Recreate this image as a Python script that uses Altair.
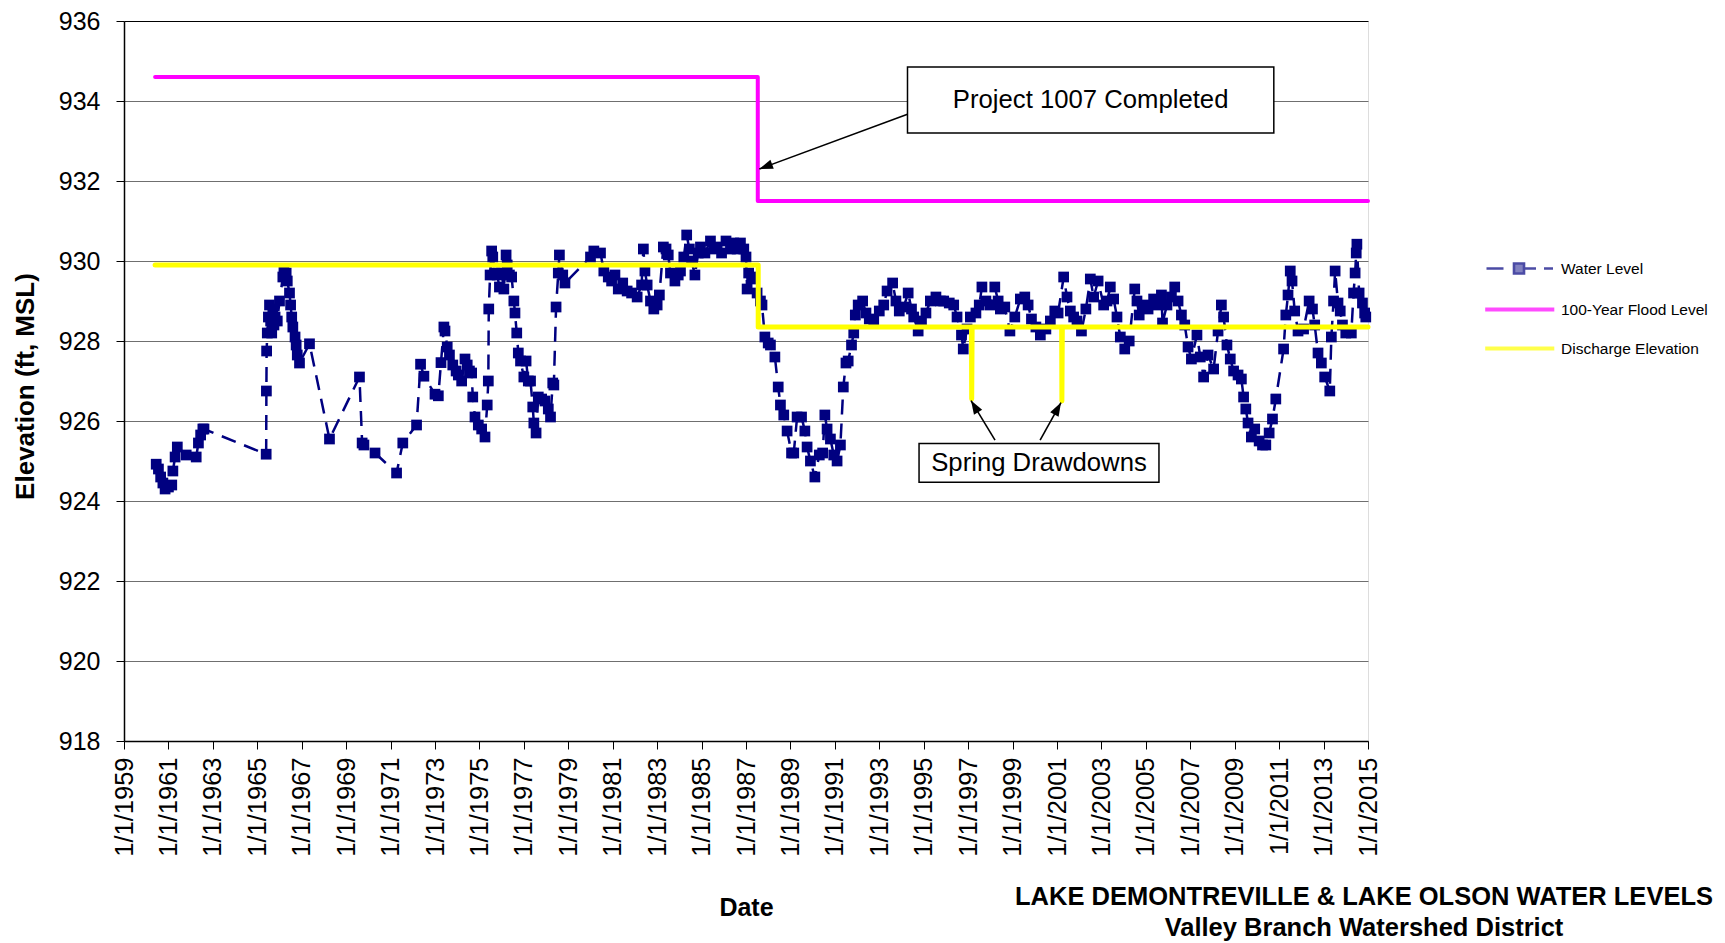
import math
import altair as alt
import pandas as pd

# ---------------- data ----------------
water_years = [
    1960.45, 1960.55, 1960.65, 1960.75, 1960.85, 1961.0, 1961.15, 1961.2, 1961.3, 1961.4,
    1961.8, 1962.25, 1962.35, 1962.45, 1962.55, 1962.6,
    1965.4, 1965.41, 1965.42, 1965.45, 1965.5, 1965.55, 1965.6, 1965.65, 1965.7, 1965.75,
    1965.8, 1965.9, 1966.0, 1966.15, 1966.2, 1966.3, 1966.35, 1966.45, 1966.5, 1966.55,
    1966.6, 1966.7, 1966.75, 1966.8, 1966.9, 1967.35, 1968.25, 1969.6, 1969.72, 1969.8,
    1970.3, 1971.27, 1971.55, 1972.17, 1972.35, 1972.5, 1973.0, 1973.15, 1973.27, 1973.4,
    1973.45, 1973.55, 1973.65, 1973.8, 1973.95, 1974.05, 1974.2, 1974.35, 1974.45, 1974.55,
    1974.65, 1974.7, 1974.8, 1974.95, 1975.1, 1975.25, 1975.35, 1975.4, 1975.42, 1975.48,
    1975.55, 1975.6, 1975.7, 1975.8, 1975.9, 1976.0, 1976.1, 1976.2, 1976.25, 1976.35,
    1976.45, 1976.55, 1976.6, 1976.68, 1976.75, 1976.85, 1977.0, 1977.1, 1977.2, 1977.3,
    1977.4, 1977.45, 1977.55, 1977.65, 1977.8, 1977.95, 1978.1, 1978.2, 1978.3, 1978.35,
    1978.45, 1978.55, 1978.6, 1978.75, 1978.85, 1980.0, 1980.15, 1980.45, 1980.6, 1980.8,
    1980.95, 1981.1, 1981.25, 1981.45, 1981.65, 1981.85, 1982.1, 1982.3, 1982.38, 1982.45,
    1982.55, 1982.7, 1982.85, 1983.0, 1983.1, 1983.28, 1983.4, 1983.5, 1983.6, 1983.8,
    1983.95, 1984.05, 1984.2, 1984.33, 1984.45, 1984.55, 1984.7, 1984.85, 1984.95, 1985.15,
    1985.4, 1985.55, 1985.7, 1985.9, 1986.1, 1986.3, 1986.45, 1986.6, 1986.75, 1986.9,
    1987.0, 1987.05, 1987.12, 1987.25, 1987.35, 1987.5, 1987.65, 1987.72, 1987.85, 1988.0,
    1988.1, 1988.3, 1988.45, 1988.55, 1988.7, 1988.85, 1989.05, 1989.15, 1989.3, 1989.5,
    1989.65, 1989.75, 1989.9, 1990.1, 1990.3, 1990.45, 1990.55, 1990.65, 1990.8, 1990.95,
    1991.1, 1991.25, 1991.38, 1991.5, 1991.6, 1991.75, 1991.85, 1991.92, 1992.05, 1992.25,
    1992.4, 1992.55, 1992.75, 1993.0, 1993.2, 1993.35, 1993.6, 1993.75, 1993.9, 1994.1,
    1994.3, 1994.45, 1994.55, 1994.75, 1994.9, 1995.1, 1995.3, 1995.55, 1995.75, 1995.9,
    1996.15, 1996.35, 1996.5, 1996.7, 1996.78, 1996.95, 1997.1, 1997.35, 1997.5, 1997.62,
    1997.8, 1998.0, 1998.2, 1998.35, 1998.45, 1998.65, 1998.88, 1999.1, 1999.35, 1999.55,
    1999.7, 1999.85, 2000.05, 2000.25, 2000.5, 2000.7, 2000.9, 2001.05, 2001.3, 2001.45,
    2001.6, 2001.75, 2001.9, 2002.1, 2002.3, 2002.5, 2002.65, 2002.85, 2003.1, 2003.25,
    2003.4, 2003.55, 2003.7, 2003.85, 2004.05, 2004.25, 2004.5, 2004.6, 2004.7, 2004.9,
    2005.1, 2005.35, 2005.55, 2005.7, 2005.75, 2005.95, 2006.15, 2006.3, 2006.45, 2006.6,
    2006.75, 2006.9, 2007.05, 2007.3, 2007.45, 2007.6, 2007.8, 2008.05, 2008.25, 2008.4,
    2008.5, 2008.65, 2008.8, 2008.95, 2009.15, 2009.3, 2009.4, 2009.5, 2009.6, 2009.75,
    2009.9, 2010.1, 2010.25, 2010.4, 2010.55, 2010.7, 2010.85, 2011.2, 2011.3, 2011.4,
    2011.5, 2011.58, 2011.7, 2011.85, 2012.1, 2012.35, 2012.5, 2012.6, 2012.75, 2012.9,
    2013.05, 2013.28, 2013.35, 2013.45, 2013.52, 2013.65, 2013.75, 2013.85, 2014.0, 2014.25,
    2014.35, 2014.42, 2014.47, 2014.5, 2014.6, 2014.75, 2014.85, 2014.9,
]
water_elev = [
    924.92, 924.8, 924.6, 924.45, 924.3, 924.35, 924.4, 924.75, 925.1, 925.35,
    925.15, 925.1, 925.45, 925.65, 925.8, 925.8,
    925.17, 926.75, 927.75, 928.2, 928.6, 928.9, 928.5, 928.2, 928.8, 928.4,
    928.6, 928.5, 929.0, 929.6, 929.8, 929.7, 929.5, 929.2, 928.9, 928.6,
    928.35, 928.1, 927.9, 927.65, 927.45, 927.93, 925.55, 927.1, 925.45, 925.4,
    925.2, 924.7, 925.45, 925.9, 927.42, 927.12, 926.67, 926.63, 927.46, 928.35,
    928.25, 927.85, 927.65, 927.4, 927.25, 927.15, 927.0, 927.55, 927.4, 927.25,
    927.2, 926.6, 926.1, 925.9, 925.8, 925.6, 926.4, 927.0, 928.8, 929.65,
    930.25, 930.1, 929.7, 929.65, 929.35, 929.7, 929.3, 930.15, 929.9, 929.65,
    929.6, 929.0, 928.7, 928.2, 927.7, 927.5, 927.1, 927.5, 927.0, 927.0,
    926.35, 925.95, 925.7, 926.6, 926.55, 926.5, 926.3, 926.1, 926.95, 926.9,
    928.85, 929.7, 930.15, 929.65, 929.45, 930.1, 930.25, 930.2, 929.75, 929.6,
    929.5, 929.65, 929.3, 929.45, 929.25, 929.2, 929.1, 929.4, 930.3, 929.75,
    929.4, 929.0, 928.8, 928.9, 929.15, 930.35, 930.3, 930.15, 929.7, 929.5,
    929.65, 929.75, 930.1, 930.65, 930.3, 930.0, 929.65, 930.2, 930.35, 930.2,
    930.5, 930.3, 930.35, 930.2, 930.5, 930.3, 930.45, 930.3, 930.45, 930.3,
    930.1, 929.3, 929.7, 929.55, 929.6, 929.2, 929.0, 928.9, 928.1, 927.95,
    927.9, 927.6, 926.85, 926.4, 926.15, 925.75, 925.2, 925.2, 926.1, 926.1,
    925.75, 925.35, 925.0, 924.6, 925.15, 925.2, 926.15, 925.8, 925.55, 925.15,
    925.0, 925.4, 926.85, 927.45, 927.5, 927.9, 928.2, 928.65, 928.9, 929.0,
    928.7, 928.55, 928.5, 928.75, 928.9, 929.25, 929.45, 929.0, 928.75, 928.85,
    929.2, 928.8, 928.6, 928.25, 928.5, 928.7, 929.0, 929.1, 929.0, 929.0,
    928.95, 928.9, 928.6, 928.15, 927.8, 928.3, 928.6, 928.7, 928.9, 929.35,
    929.0, 928.9, 929.35, 929.0, 928.8, 928.85, 928.25, 928.6, 929.05, 929.1,
    928.9, 928.55, 928.35, 928.15, 928.3, 928.5, 928.75, 928.7, 929.6, 929.1,
    928.75, 928.6, 928.5, 928.25, 928.8, 929.55, 929.1, 929.5, 928.9, 929.0,
    929.35, 929.05, 928.6, 928.1, 927.8, 928.0, 929.3, 929.0, 928.65, 928.9,
    928.8, 929.05, 928.9, 929.15, 928.45, 928.9, 929.1, 929.35, 929.0, 928.65,
    928.4, 927.85, 927.55, 928.15, 927.6, 927.1, 927.65, 927.3, 928.25, 928.9,
    928.6, 927.9, 927.55, 927.25, 927.15, 927.05, 926.6, 926.3, 925.95, 925.6,
    925.8, 925.5, 925.4, 925.4, 925.7, 926.05, 926.55, 927.8, 928.65, 929.15,
    929.75, 929.5, 928.75, 928.25, 928.3, 929.0, 928.8, 928.4, 927.7, 927.45,
    927.1, 926.75, 928.1, 929.0, 929.75, 928.95, 928.75, 928.4, 928.2, 928.2,
    929.2, 929.7, 930.2, 930.42, 929.2, 928.95, 928.7, 928.6,
]

flood_years = [1960.4, 1987.53, 1987.53, 2015.0]
flood_elev = [934.6, 934.6, 931.5, 931.5]

disch_years = [1960.4, 1987.55, 1987.55, 1997.15, 1997.16, 1997.18, 2001.21, 2001.22, 2001.24, 2015.0]
disch_elev = [929.9, 929.9, 928.35, 928.35, 926.55, 928.35, 928.35, 926.5, 928.35, 928.35]

series_names = ["Water Level", "100-Year Flood Level", "Discharge Elevation"]
series_colors = ["#000080", "#FF00FF", "#FFFF00"]

x_ticks = list(range(1959, 2016, 2))
y_ticks = list(range(918, 937, 2))

# annotation boxes (data coordinates)
box_text = ["Project 1007 Completed", "Spring Drawdowns"]
box_x1 = [1994.27, 1994.79]
box_x2 = [2010.76, 2005.59]
box_y1 = [934.85, 925.44]
box_y2 = [933.20, 924.47]

# arrows: start -> tip (data coordinates)
arrow_x1 = [1994.27, 1998.21, 2000.24]
arrow_y1 = [933.67, 925.52, 925.52]
arrow_x2 = [1987.6, 1997.13, 2001.18]
arrow_y2 = [932.30, 926.51, 926.46]

# ---------------- layout ----------------
W, H = 1244, 720
FONT = "Liberation Sans"
px_year = W / (2015 - 1959)
px_ft = H / (936 - 918)

xscale = alt.Scale(domain=[1959, 2015], nice=False, zero=False)
yscale = alt.Scale(domain=[918, 936], nice=False, zero=False)

x_enc = alt.X(
    "year:Q", scale=xscale, title="Date",
    axis=alt.Axis(
        values=x_ticks, labelExpr="'1/1/' + datum.value", labelAngle=270,
        labelFont=FONT, labelFontSize=25.5, labelColor="black", labelPadding=8,
        tickSize=8, tickColor="black", domainColor="black", domainWidth=1.5,
        grid=False, titleFont=FONT, titleFontSize=25, titleFontWeight="bold",
        titleColor="black", titleX=W / 2, titleY=166, titleBaseline="middle",
        labelOverlap=False, labelFlush=False,
    ),
)
y_enc = alt.Y(
    "elev:Q", scale=yscale, title="Elevation (ft, MSL)",
    axis=alt.Axis(
        values=y_ticks, labelFont=FONT, labelFontSize=25, labelColor="black",
        labelPadding=16, tickSize=8, tickColor="black", domainColor="black",
        domainWidth=1.5, grid=True,
        gridColor={"condition": {"test": "datum.value == 936", "value": "black"},
                   "value": "#6f6f6f"},
        gridWidth=1,
        titleFont=FONT, titleFontSize=26, titleFontWeight="bold", titleColor="black",
        titleX=-99, titleY=H / 2 + 5, titleBaseline="middle", titleAlign="center",
        labelFlush=False,
    ),
)

water_df = pd.DataFrame({"year": water_years, "elev": water_elev})
flood_df = pd.DataFrame({"year": flood_years, "elev": flood_elev, "i": range(len(flood_years))})
disch_df = pd.DataFrame({"year": disch_years, "elev": disch_elev, "i": range(len(disch_years))})

water_line = alt.Chart(water_df).mark_line(
    color="#000080", strokeWidth=2.5, strokeDash=[15, 9]
).encode(x=x_enc, y=y_enc)
water_pts = alt.Chart(water_df).mark_point(
    shape="square", filled=True, color="#000080", size=115, opacity=1
).encode(x=x_enc, y=y_enc)

flood_line = alt.Chart(flood_df).mark_line(
    color="#FF00FF", strokeWidth=4, strokeCap="round", strokeJoin="round"
).encode(x=x_enc, y=y_enc, order="i:Q")
disch_line = alt.Chart(disch_df).mark_line(
    color="#FFFF00", strokeWidth=5, strokeCap="round", strokeJoin="round"
).encode(x=x_enc, y=y_enc, order="i:Q")

# legend (library legend, driven by a hidden, clipped layer)
legend_paths = [
    "M-5.5,0H-3.8M-2.75,-0.5H-1.75V0.5H-2.75ZM-1.75,0H-0.55M0.25,0H1.15",
    "M-5.5,-0.07H1.15V0.07H-5.5Z",
    "M-5.5,-0.07H1.15V0.07H-5.5Z",
]
leg = alt.Legend(
    title=None, orient="none", legendX=1406, legendY=236, symbolSize=400,
    labelFont=FONT, labelFontSize=15.5, labelColor="black", labelOffset=8,
    rowPadding=19, symbolStrokeWidth=2.6,
)
legend_df = pd.DataFrame({"series": series_names, "year": [1900.0] * 3, "elev": [900.0] * 3})
legend_layer = alt.Chart(legend_df).mark_point(filled=True, clip=True).encode(
    x=x_enc, y=y_enc,
    shape=alt.Shape("series:N", scale=alt.Scale(domain=series_names, range=legend_paths), legend=leg),
    fill=alt.Fill("series:N", scale=alt.Scale(domain=series_names, range=series_colors), legend=leg),
    stroke=alt.Stroke("series:N", scale=alt.Scale(domain=series_names, range=series_colors), legend=leg),
)

# annotations
box_df = pd.DataFrame({
    "text": box_text, "year": box_x1, "year2": box_x2, "elev": box_y1, "elev2": box_y2,
})
box_df["xm"] = (box_df["year"] + box_df["year2"]) / 2
box_df["ym"] = (box_df["elev"] + box_df["elev2"]) / 2
boxes = alt.Chart(box_df).mark_rect(fill="white", stroke="black", strokeWidth=1.5).encode(
    x=x_enc, x2="year2:Q", y=y_enc, y2="elev2:Q"
)
box_labels = alt.Chart(box_df).mark_text(font=FONT, fontSize=25.7, color="black").encode(
    x=alt.X("xm:Q", scale=xscale), y=alt.Y("ym:Q", scale=yscale), text="text:N"
)

arr_df = pd.DataFrame({"year": arrow_x1, "elev": arrow_y1, "year2": arrow_x2, "elev2": arrow_y2})
arr_df["angle"] = [
    math.degrees(math.atan2((x2 - x1) * px_year, (y2 - y1) * px_ft)) % 360
    for x1, y1, x2, y2 in zip(arrow_x1, arrow_y1, arrow_x2, arrow_y2)
]
arrow_lines = alt.Chart(arr_df).mark_rule(color="black", strokeWidth=1.6).encode(
    x=x_enc, y=y_enc, x2="year2:Q", y2="elev2:Q"
)
arrow_heads = alt.Chart(arr_df).mark_point(
    shape="M0,0L-0.6,1.7L0.6,1.7Z", filled=True, color="black", size=256, opacity=1
).encode(
    x=alt.X("year2:Q", scale=xscale), y=alt.Y("elev2:Q", scale=yscale),
    angle=alt.Angle("angle:Q", scale=None),
)

chart = alt.layer(
    water_line, water_pts, flood_line, disch_line, legend_layer,
    arrow_lines, arrow_heads, boxes, box_labels,
).properties(
    width=W, height=H,
    autosize=alt.AutoSizeParams(type="none"),
    padding={"left": 116, "top": 13, "right": 349, "bottom": 200},
    title=alt.TitleParams(
        text="LAKE DEMONTREVILLE & LAKE OLSON WATER LEVELS",
        subtitle="Valley Branch Watershed District",
        orient="bottom", anchor="middle", dx=618,
        font=FONT, fontSize=25.5, fontWeight="bold", color="black",
        subtitleFont=FONT, subtitleFontSize=25.5, subtitleFontWeight="bold",
        subtitleColor="black", subtitlePadding=5, offset=-35,
    ),
).configure_view(stroke="black", strokeWidth=1.5).configure(background="white")

chart.save("out.html", embed_options={"renderer": "svg", "actions": False})
